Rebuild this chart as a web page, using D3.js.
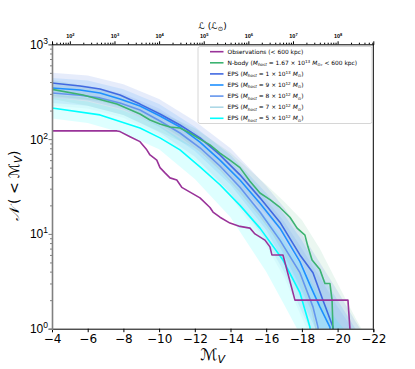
<!DOCTYPE html>
<html><head><meta charset="utf-8">
<script src="https://cdn.jsdelivr.net/npm/d3@7"></script>
<style>body{margin:0;background:#fff}svg{font-family:"DejaVu Sans",sans-serif}</style>
</head><body><svg id="c" width="415" height="369"></svg>
<script>
// ---------- data ----------
const xTicks = [-4,-6,-8,-10,-12,-14,-16,-18,-20,-22];
const yTicks = [1,10,100,1000];
const topTickExp = [2,3,4,5,6,7,8];

const obsM = [-4,-7.64,-7.81,-8.37,-8.93,-9.31,-9.49,-9.87,-10.05,-10.33,-10.61,-10.99,-11.27,-12.29,-12.85,-13.02,-13.41,-13.97,-14.53,-15.09,-15.37,-15.93,-16.21,-16.32,-16.94,-17.61,-20.58,-20.8];
const obsN = [122,122,120,106,94,77,68,60,50,44,39,37,31,24,19,17,15,13,12,11.5,10,8.6,7.3,6,6,2,2,0.5];

const nbodyM = [-4,-5.74,-7.64,-8.93,-9.49,-10.05,-10.61,-11.17,-11.73,-12.29,-12.85,-13.41,-13.97,-14.53,-15.09,-15.65,-16.21,-16.77,-17.33,-17.73,-18.17,-18.34,-18.57,-19.01,-19.29,-19.57,-19.69,-19.74,-19.8];
const nbodyN = [335,292,235,184,159,144,134,131,116,100,87,71,60,50,36,27,23,19,15,11.5,9.7,7.3,5.3,4.2,3,3,2,1,0.5];

const eps13M = [-4,-5.57,-6.69,-7.81,-8.93,-10.05,-11.17,-12.29,-13.41,-14.53,-15.65,-16.77,-17.89,-18.62,-19.18,-19.74,-19.9];
const eps13N = [391,363,338,292,234,184,141,103,68,42,24,13.3,6,3.9,2,1.04,0.5];
const eps9M = [-4,-5.57,-6.69,-7.81,-8.93,-10.05,-11.17,-12.29,-13.41,-14.53,-15.65,-16.77,-17.89,-18.45,-19.01,-19.57,-19.7];
const eps9N = [346,330,306,265,223,175,134,93,60,37,21,11.5,5.1,2.9,1.7,1.04,0.5];
const eps8M = [-4,-5.57,-6.69,-7.81,-8.93,-10.05,-11.17,-12.29,-13.41,-14.53,-15.65,-16.77,-17.89,-18.62,-18.9,-19.0];
const eps8N = [306,290,272,240,203,155,116,81,52,31,17,8.6,3.9,1.7,1.04,0.5];
const eps7M = [-4,-5.57,-6.69,-7.81,-8.93,-10.05,-11.17,-12.29,-13.41,-14.53,-15.65,-16.77,-17.89,-18.55,-18.8,-18.9];
const eps7N = [290,272,256,225,190,146,108,75,48,28,15.5,8,3.6,1.6,1.0,0.5];
const eps5M = [-4,-6.69,-8.93,-10.05,-11.17,-12.29,-13.41,-14.53,-15.65,-16.94,-17.89,-18.45,-18.55];
const eps5N = [213,180,131,103,77,51,33,20,11.5,5.3,2.4,1.04,0.5];

const bandM = [-4,-6,-8,-10,-12,-14,-16,-17,-18,-19,-20,-21,-22];
const nbodyLo = [265,225,180,120,80,40,16,10,5,1.8,0.7,0.5,0.5];
const nbodyHi = [420,360,290,195,130,72,33,22,14,7,3,1.3,0.6];
const eps13Lo = [310,285,225,150,85,38,13,6,2.5,1,0.5,0.5,0.5];
const eps13Hi = [500,470,380,265,155,80,32,19,10,5,2.5,1.2,0.6];
const eps9Lo = [275,255,205,135,75,33,11,5,2,0.8,0.5,0.5,0.5];
const eps9Hi = [440,415,335,235,135,68,27,16,8.5,4,2,1,0.5];
const eps8Lo = [240,225,180,118,65,27,8.5,4,1.5,0.6,0.5,0.5,0.5];
const eps8Hi = [390,365,300,210,120,58,23,13.5,7,3.5,1.7,0.9,0.5];
const eps7Lo = [225,210,168,110,60,25,7.5,3.5,1.3,0.5,0.5,0.5,0.5];
const eps7Hi = [370,345,285,200,112,54,21,12.5,6.5,3.2,1.5,0.8,0.5];
const eps5Lo = [165,148,115,78,38,15,4,1.8,0.8,0.5,0.5,0.5,0.5];
const eps5Hi = [275,250,200,140,80,38,15,8.5,4.5,2.2,1.2,0.7,0.5];

const series = [
  {name:"obs", M:obsM, N:obsN, color:"#993399"},
  {name:"nbody", M:nbodyM, N:nbodyN, color:"#3cb371", lo:nbodyLo, hi:nbodyHi},
  {name:"eps13", M:eps13M, N:eps13N, color:"#4169e1", lo:eps13Lo, hi:eps13Hi},
  {name:"eps9", M:eps9M, N:eps9N, color:"#1e90ff", lo:eps9Lo, hi:eps9Hi},
  {name:"eps8", M:eps8M, N:eps8N, color:"#6495ed", lo:eps8Lo, hi:eps8Hi},
  {name:"eps7", M:eps7M, N:eps7N, color:"#add8e6", lo:eps7Lo, hi:eps7Hi},
  {name:"eps5", M:eps5M, N:eps5N, color:"#00ffff", lo:eps5Lo, hi:eps5Hi}
];

// ---------- layout ----------
const L = 52, R = 373.3, T = 44.3, B = 328.7;
const svg = d3.select("#c");
const x = d3.scaleLinear().domain([-4,-22]).range([L,R]);
const y = d3.scaleLog().domain([1,1000]).range([B,T]);
const xL = d3.scaleLog().domain([Math.pow(10,1.6), Math.pow(10,8.8)]).range([L,R]);

svg.append("defs").append("clipPath").attr("id","clip")
  .append("rect").attr("x",L).attr("y",T).attr("width",R-L).attr("height",B-T);
const plot = svg.append("g").attr("clip-path","url(#clip)");

// bands
const area = d3.area().x((d,i)=>x(bandM[i])).y0(d=>y(d[0])).y1(d=>y(d[1]));
const bandOrder = ["nbody","eps13","eps9","eps8","eps7","eps5"];
bandOrder.forEach(n=>{
  const s = series.find(q=>q.name===n);
  plot.append("path").datum(s.lo.map((v,i)=>[v,s.hi[i]]))
    .attr("d",area).attr("fill",s.color)
    .attr("fill-opacity", n==="nbody"?0.1:0.13).attr("stroke","none");
});
// lines
const line = d3.line().x(d=>x(d[0])).y(d=>y(d[1]));
["eps5","eps7","eps8","eps9","eps13","nbody","obs"].forEach(n=>{
  const s = series.find(q=>q.name===n);
  plot.append("path").datum(s.M.map((m,i)=>[m,s.N[i]]))
    .attr("d",line).attr("fill","none").attr("stroke",s.color)
    .attr("stroke-width",1.6).attr("stroke-linejoin","round");
});

// ---------- axes ----------
const gx = svg.append("g").attr("transform",`translate(0,${B})`)
  .call(d3.axisBottom(x).tickValues(xTicks).tickSize(3.5).tickPadding(2).tickFormat(d=>"\u2212"+Math.abs(d)));
gx.select(".domain").attr("stroke","#000").attr("stroke-width",1);
gx.selectAll("text").attr("font-size",12).attr("fill","#000").attr("font-family","DejaVu Sans");

// left axis (gray)
const minorY = [];
for (let k=0;k<3;k++) for (let m=2;m<10;m++) minorY.push(m*Math.pow(10,k));
const gy = svg.append("g").attr("transform",`translate(${L},0)`);
gy.call(d3.axisLeft(y).tickValues(yTicks).tickSize(3.5).tickPadding(3).tickFormat(""));
gy.selectAll(".tick line").attr("stroke","#808080");
gy.select(".domain").attr("stroke","#808080").attr("stroke-width",1.6);
const gym = svg.append("g").attr("transform",`translate(${L},0)`);
gym.call(d3.axisLeft(y).tickValues(minorY).tickSize(2).tickFormat(""));
gym.select(".domain").remove();
gym.selectAll(".tick line").attr("stroke","#808080");
gy.selectAll(".tick").each(function(d){
  const t = d3.select(this).append("text").attr("x",-4).attr("y",4)
    .attr("text-anchor","end").attr("fill","#000").attr("font-size",12);
  t.append("tspan").text("10");
  t.append("tspan").attr("dy",-5).attr("font-size",8.5).text(Math.round(Math.log10(d)));
});

// top axis (luminosity)
const minorL = [];
for (let k=1;k<9;k++) for (let m=2;m<10;m++){ const v=m*Math.pow(10,k); if (v>=xL.domain()[0] && v<=xL.domain()[1]) minorL.push(v); }
const gt = svg.append("g").attr("transform",`translate(0,${T})`);
gt.call(d3.axisTop(xL).tickValues(topTickExp.map(k=>Math.pow(10,k))).tickSize(3).tickFormat(""));
gt.select(".domain").attr("stroke","#000").attr("stroke-width",1);
const gtm = svg.append("g").attr("transform",`translate(0,${T})`);
gtm.call(d3.axisTop(xL).tickValues(minorL).tickSize(1.6).tickFormat(""));
gtm.select(".domain").remove();
gt.selectAll(".tick").each(function(d){
  const t = d3.select(this).append("text").attr("x",0).attr("y",-6)
    .attr("text-anchor","middle").attr("fill","#000").attr("font-size",5.5).attr("font-weight","bold");
  t.append("tspan").text("10");
  t.append("tspan").attr("dy",-2.5).attr("font-size",4).text(Math.round(Math.log10(d)));
});
// right spine
svg.append("line").attr("x1",R).attr("x2",R).attr("y1",T).attr("y2",B).attr("stroke","#000").attr("stroke-width",1);

// axis labels
const xlab = svg.append("text").attr("x",(L+R)/2).attr("y",360).attr("text-anchor","middle").attr("font-size",16).attr("font-style","italic");
xlab.append("tspan").text("\u2133");
xlab.append("tspan").attr("dy",3).attr("font-size",11).text("V");

const ylab = svg.append("text").attr("transform","translate(19,186) rotate(-90)").attr("text-anchor","middle").attr("font-size",14);
ylab.append("tspan").attr("font-style","italic").text("\uD835\uDCA9");
ylab.append("tspan").text(" ( < ");
ylab.append("tspan").attr("font-style","italic").text("\u2133");
ylab.append("tspan").attr("dy",2.5).attr("font-size",10).attr("font-style","italic").text("V");
ylab.append("tspan").attr("dy",-2.5).text(")");

const tlab = svg.append("text").attr("x",(L+R)/2).attr("y",29).attr("text-anchor","middle").attr("font-size",9);
tlab.append("tspan").attr("font-style","italic").text("\u2112");
tlab.append("tspan").text(" (");
tlab.append("tspan").attr("font-style","italic").text("\u2112");
tlab.append("tspan").attr("dy",2).attr("font-size",6.5).text("\u2299");
tlab.append("tspan").attr("dy",-2).text(")");

// ---------- legend ----------
const legendItems = [
  {s:"obs", parts:[["Observations (< 600 kpc)"]]},
  {s:"nbody", parts:[["N-body ("],["M","i"],["host","sub"],[" = 1.67 \u00d7 10"],["13","sup"],[" "],["M","i"],["\u2299","sub"],[",  < 600 kpc)"]]},
  {s:"eps13", parts:[["EPS ("],["M","i"],["host","sub"],[" = 1 \u00d7 10"],["13","sup"],[" "],["M","i"],["\u2299","sub"],[")"]]},
  {s:"eps9", parts:[["EPS ("],["M","i"],["host","sub"],[" = 9 \u00d7 10"],["12","sup"],[" "],["M","i"],["\u2299","sub"],[")"]]},
  {s:"eps8", parts:[["EPS ("],["M","i"],["host","sub"],[" = 8 \u00d7 10"],["12","sup"],[" "],["M","i"],["\u2299","sub"],[")"]]},
  {s:"eps7", parts:[["EPS ("],["M","i"],["host","sub"],[" = 7 \u00d7 10"],["12","sup"],[" "],["M","i"],["\u2299","sub"],[")"]]},
  {s:"eps5", parts:[["EPS ("],["M","i"],["host","sub"],[" = 5 \u00d7 10"],["12","sup"],[" "],["M","i"],["\u2299","sub"],[")"]]}
];
const lg = svg.append("g");
lg.append("rect").attr("x",198).attr("y",46.5).attr("width",174).attr("height",77).attr("rx",2)
  .attr("fill","#fff").attr("fill-opacity",0.85).attr("stroke","#ccc").attr("stroke-width",0.8);
legendItems.forEach((it,i)=>{
  const yy = 51.7 + i*11.1;
  const col = series.find(q=>q.name===it.s).color;
  lg.append("line").attr("x1",210).attr("x2",223.5).attr("y1",yy).attr("y2",yy).attr("stroke",col).attr("stroke-width",1.6);
  const t = lg.append("text").attr("x",227.5).attr("y",yy+2.1).attr("font-size",5.9).attr("fill","#000");
  let shift = 0;
  it.parts.forEach(p=>{
    const ts = t.append("tspan").text(p[0]);
    let target = 0, fs = null;
    if (p[1]==="i") ts.attr("font-style","italic");
    if (p[1]==="sub") { target = 1.3; fs = 4.2; ts.attr("font-style", p[0]==="host"?"italic":"normal"); }
    if (p[1]==="sup") { target = -2.3; fs = 4.2; }
    if (fs) ts.attr("font-size",fs);
    if (target !== shift) { ts.attr("dy", target - shift); shift = target; }
  });
});
</script></body></html>
